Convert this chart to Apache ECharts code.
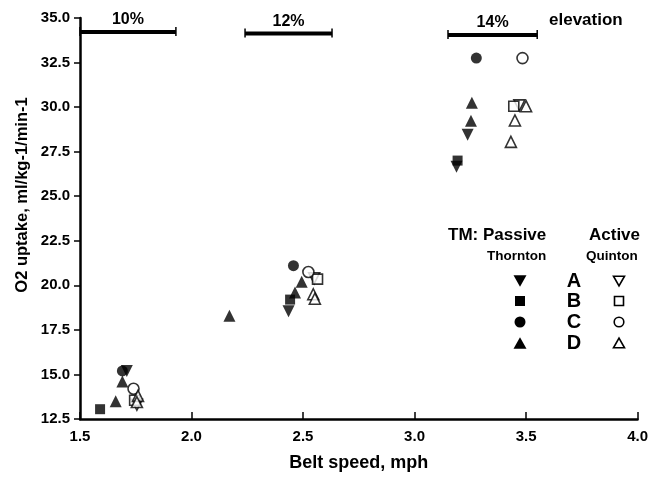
<!DOCTYPE html>
<html>
<head>
<meta charset="utf-8">
<script src="https://cdn.jsdelivr.net/npm/echarts@6/dist/echarts.min.js"></script>
<style>
  html, body { margin: 0; padding: 0; background: #fff; }
  #chart { width: 651px; height: 477px; }
</style>
</head>
<body>
<div id="chart"></div>
<script>
// belt speed (mph) / O2 uptake pairs, per subject and treadmill
const passiveA_x = [1.71, 2.435, 3.238, 3.188];
const passiveA_y = [15.2, 18.55, 28.45, 26.65];
const passiveB_x = [1.59, 2.442, 3.193];
const passiveB_y = [13.05, 19.2, 27.0];
const passiveC_x = [1.69, 2.457, 3.277];
const passiveC_y = [15.2, 21.1, 32.75];
const passiveD_x = [1.69, 1.66, 2.17, 2.464, 2.494, 3.257, 3.253];
const passiveD_y = [14.6, 13.5, 18.3, 19.6, 20.2, 30.25, 29.23];

const activeA_x = [1.755, 2.55, 3.47];
const activeA_y = [13.3, 20.4, 30.1];
const activeB_x = [1.745, 2.565, 3.445];
const activeB_y = [13.55, 20.35, 30.05];
const activeC_x = [1.74, 2.524, 3.484];
const activeC_y = [14.2, 20.75, 32.75];
const activeD_x = [1.76, 1.755, 2.546, 2.553, 3.50, 3.45, 3.432];
const activeD_y = [13.8, 13.45, 19.5, 19.25, 30.05, 29.25, 28.05];

// elevation ranges drawn at top
const elevLabels = ['10%', '12%', '14%'];
const elevStart = [1.5, 2.24, 3.15];
const elevEnd = [1.93, 2.63, 3.55];
const elevLevel = [34.22, 34.13, 34.05];

const xTicks = [1.5, 2.0, 2.5, 3.0, 3.5, 4.0];
const yTicks = [12.5, 15.0, 17.5, 20.0, 22.5, 25.0, 27.5, 30.0, 32.5, 35.0];

const FONT = "'Liberation Sans', Arial, sans-serif";

function pairs(xs, ys) {
  return xs.map((x, i) => [x, ys[i]]);
}

function filled(name, symbol, size, xs, ys, rotate) {
  return {
    name: name, type: 'scatter', symbol: symbol, symbolSize: size,
    symbolRotate: rotate || 0,
    itemStyle: { color: '#000' },
    data: pairs(xs, ys), z: 3
  };
}
function hollow(name, symbol, size, xs, ys, rotate) {
  return {
    name: name, type: 'scatter', symbol: symbol, symbolSize: size,
    symbolRotate: rotate || 0,
    itemStyle: { color: '#fff', borderColor: '#000', borderWidth: 1.6 },
    data: pairs(xs, ys), z: 4
  };
}

const elevData = elevLabels.map((l, i) => [elevStart[i], elevEnd[i], elevLevel[i], l]);

let chart = echarts.init(document.getElementById('chart'));

// legend block built with graphic elements
const lx1 = 520, lx2 = 574, lx3 = 619;
const rows = [281, 301, 322, 343];
const letters = ['A', 'B', 'C', 'D'];
function tri(cx, cy, w, down, fill) {
  const h = w * 0.87;
  const pts = down
    ? [[cx - w / 2, cy - h / 2], [cx + w / 2, cy - h / 2], [cx, cy + h / 2]]
    : [[cx - w / 2, cy + h / 2], [cx + w / 2, cy + h / 2], [cx, cy - h / 2]];
  return { type: 'polygon', shape: { points: pts },
    style: fill ? { fill: '#000' } : { fill: '#fff', stroke: '#000', lineWidth: 1.6 } };
}
const legendEls = [
  { type: 'text', left: 448, top: 227, style: { text: 'TM: Passive', font: 'bold 17px ' + FONT, fill: '#000' } },
  { type: 'text', left: 589, top: 227, style: { text: 'Active', font: 'bold 17px ' + FONT, fill: '#000' } },
  { type: 'text', left: 487, top: 249, style: { text: 'Thornton', font: 'bold 13.5px ' + FONT, fill: '#000' } },
  { type: 'text', left: 586, top: 249, style: { text: 'Quinton', font: 'bold 13.5px ' + FONT, fill: '#000' } },
  tri(lx1, rows[0], 13, true, true),
  { type: 'rect', shape: { x: lx1 - 5, y: rows[1] - 5, width: 10, height: 10 }, style: { fill: '#000' } },
  { type: 'circle', shape: { cx: lx1, cy: rows[2], r: 5.5 }, style: { fill: '#000' } },
  tri(lx1, rows[3], 13, false, true),
  tri(lx3, rows[0], 11, true, false),
  { type: 'rect', shape: { x: lx3 - 4.5, y: rows[1] - 4.5, width: 9, height: 9 }, style: { fill: '#fff', stroke: '#000', lineWidth: 1.6 } },
  { type: 'circle', shape: { cx: lx3, cy: rows[2], r: 4.8 }, style: { fill: '#fff', stroke: '#000', lineWidth: 1.6 } },
  tri(lx3, rows[3], 11, false, false)
];
letters.forEach((l, i) => {
  legendEls.push({ type: 'text', x: lx2, y: rows[i],
    style: { text: l, font: 'bold 20px ' + FONT, fill: '#000', align: 'center', verticalAlign: 'middle' } });
});

let option = {
  animation: false,
  backgroundColor: '#fff',
  grid: { left: 80, right: 10, top: 18, bottom: 57 },
  xAxis: {
    type: 'value', min: xTicks[0], max: xTicks[xTicks.length - 1], interval: 0.5,
    name: 'Belt speed, mph', nameLocation: 'middle', nameGap: 35,
    nameTextStyle: { fontFamily: FONT, fontWeight: 'bold', fontSize: 18, color: '#000' },
    axisLine: { lineStyle: { color: '#000', width: 2.5 } },
    axisTick: { inside: true, length: 7, lineStyle: { color: '#000', width: 1.5 } },
    axisLabel: { margin: 10, fontFamily: FONT, fontWeight: 'bold', fontSize: 15, color: '#000',
      formatter: v => v.toFixed(1) },
    splitLine: { show: false }
  },
  yAxis: {
    type: 'value', min: yTicks[0], max: yTicks[yTicks.length - 1], interval: 2.5,
    axisLine: { show: true, lineStyle: { color: '#000', width: 2.5 } },
    axisTick: { show: true, length: 6, lineStyle: { color: '#000', width: 1.5 } },
    axisLabel: { margin: 10, fontFamily: FONT, fontWeight: 'bold', fontSize: 15, color: '#000',
      formatter: v => v.toFixed(1) },
    splitLine: { show: false }
  },
  graphic: [
    { type: 'text', x: 22, y: 195, rotation: Math.PI / 2,
      style: { text: 'O2 uptake, ml/kg-1/min-1', font: 'bold 16.5px ' + FONT, fill: '#000',
        align: 'center', verticalAlign: 'middle' } },
    { type: 'text', left: 549, top: 12, style: { text: 'elevation', font: 'bold 17px ' + FONT, fill: '#000' } }
  ].concat(legendEls),
  series: [
    {
      type: 'custom', name: 'elevation', silent: true, clip: false,
      data: elevData,
      renderItem: function (params, api) {
        const a = api.coord([api.value(0), api.value(2)]);
        const b = api.coord([api.value(1), api.value(2)]);
        const label = elevLabels[params.dataIndex];
        return {
          type: 'group',
          children: [
            { type: 'line', shape: { x1: a[0], y1: a[1], x2: b[0], y2: b[1] },
              style: { stroke: '#000', lineWidth: 4 } },
            { type: 'line', shape: { x1: a[0], y1: a[1] - 5, x2: a[0], y2: a[1] + 4 },
              style: { stroke: '#000', lineWidth: 1.5 } },
            { type: 'line', shape: { x1: b[0], y1: b[1] - 5, x2: b[0], y2: b[1] + 4 },
              style: { stroke: '#000', lineWidth: 1.5 } },
            { type: 'text', x: (a[0] + b[0]) / 2, y: a[1] - 12,
              style: { text: label, font: 'bold 16px ' + FONT, fill: '#000',
                align: 'center', verticalAlign: 'middle' } }
          ]
        };
      }
    },
    filled('Passive A', 'triangle', 12, passiveA_x, passiveA_y, 180),
    filled('Passive B', 'rect', 10, passiveB_x, passiveB_y),
    filled('Passive C', 'circle', 11, passiveC_x, passiveC_y),
    filled('Passive D', 'triangle', 12, passiveD_x, passiveD_y),
    hollow('Active A', 'triangle', 11, activeA_x, activeA_y, 180),
    hollow('Active B', 'rect', 10, activeB_x, activeB_y),
    hollow('Active C', 'circle', 11, activeC_x, activeC_y),
    hollow('Active D', 'triangle', 11, activeD_x, activeD_y)
  ]
};

chart.setOption(option);
</script>
</body>
</html>
